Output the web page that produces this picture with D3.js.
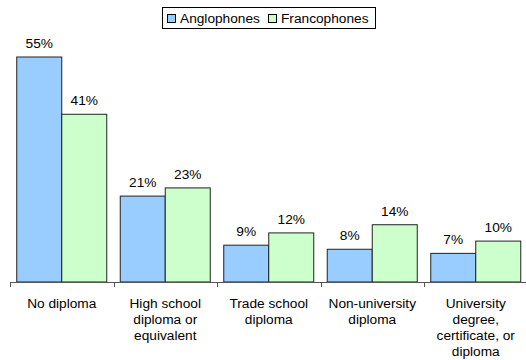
<!DOCTYPE html>
<html><head><meta charset="utf-8">
<script src="https://cdn.jsdelivr.net/npm/d3@7/dist/d3.min.js"></script>
<style>body{margin:0;background:#fff}text{font-family:"Liberation Sans",Arial,sans-serif;fill:#000}</style>
</head><body><svg id="c" width="526" height="360"></svg>
<script>
const categories = ["No diploma","High school diploma or equivalent","Trade school diploma","Non-university diploma","University degree, certificate, or diploma"];
const categoryLines = [["No diploma"],["High school","diploma or","equivalent"],["Trade school","diploma"],["Non-university","diploma"],["University","degree,","certificate, or","diploma"]];
const series = ["Anglophones","Francophones"];
const anglophones = [55,21,9,8,7];
const francophones = [41,23,12,14,10];
const colors = ["#99ccff","#ccffcc"];

const FS = "13.7px";
const svg = d3.select("#c");
const baseY = 282, topY = 57;
const x0 = d3.scaleBand().domain(categories).range([10, 527.5]).paddingInner(0).paddingOuter(0);
const x1 = d3.scaleBand().domain(series).range([0, x0.bandwidth()]).paddingInner(0).paddingOuter(0.15);
const y = d3.scaleLinear().domain([0,55]).range([baseY, topY]);
const color = d3.scaleOrdinal().domain(series).range(colors);

const data = categories.map((c,i)=>({c, vals:[{s:"Anglophones",v:anglophones[i]},{s:"Francophones",v:francophones[i]}]}));

const g = svg.selectAll("g.grp").data(data).enter().append("g").attr("class","grp")
  .attr("transform", d=>`translate(${x0(d.c)},0)`);
g.selectAll("rect").data(d=>d.vals).enter().append("rect")
  .attr("x", d=>x1(d.s)).attr("y", d=>y(d.v))
  .attr("width", x1.bandwidth()).attr("height", d=>baseY - y(d.v))
  .attr("fill", d=>color(d.s)).attr("stroke","#222").attr("stroke-width",1);
g.selectAll("text.val").data(d=>d.vals).enter().append("text").attr("class","val")
  .attr("x", d=>x1(d.s)+x1.bandwidth()/2).attr("y", d=>y(d.v)-9)
  .attr("text-anchor","middle").attr("font-size",FS).text(d=>d.v+"%");

// axis
svg.append("line").attr("x1",10).attr("x2",526).attr("y1",baseY+0.5).attr("y2",baseY+0.5).attr("stroke","#555");
const bounds = categories.map(c=>x0(c)).concat([x0.range()[1]]);
svg.selectAll("line.tick").data(bounds).enter().append("line").attr("class","tick")
  .attr("x1",d=>Math.round(d)+0.5).attr("x2",d=>Math.round(d)+0.5).attr("y1",baseY).attr("y2",baseY+5).attr("stroke","#555");

// category labels
svg.selectAll("text.cat").data(categories).enter().append("text").attr("class","cat")
  .attr("text-anchor","middle").attr("font-size",FS)
  .each(function(c,i){
    const t = d3.select(this);
    categoryLines[i].forEach((ln,j)=>{
      t.append("tspan").attr("x", x0(c)+x0.bandwidth()/2).attr("y", 307.5 + j*16.3).text(ln);
    });
  });

// legend
const lg = svg.append("g");
lg.append("rect").attr("x",162.5).attr("y",7.5).attr("width",213).attr("height",21).attr("fill","#fff").attr("stroke","#000");
const lx = [167,268];
series.forEach((s,i)=>{
  lg.append("rect").attr("x",lx[i]+0.5).attr("y",14.5).attr("width",8).attr("height",8).attr("fill",color(s)).attr("stroke","#000");
  lg.append("text").attr("x",lx[i]+13).attr("y",23).attr("font-size",FS).text(s);
});
</script></body></html>
